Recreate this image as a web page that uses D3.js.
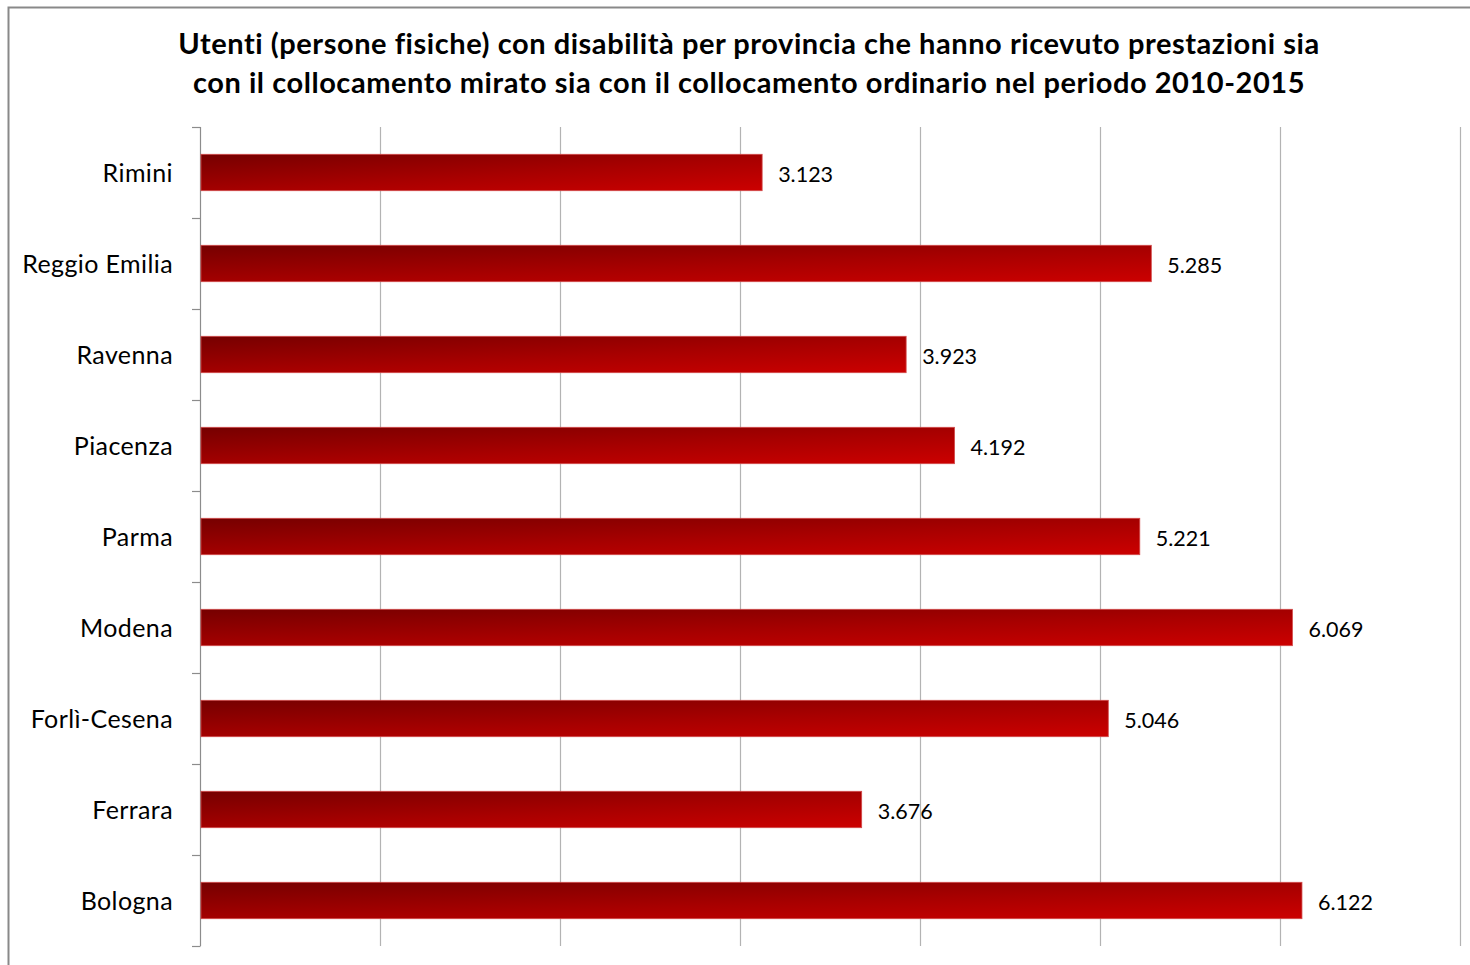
<!DOCTYPE html>
<html>
<head>
<meta charset="utf-8">
<script src="https://cdn.jsdelivr.net/npm/d3@7"></script>
<style>
  html, body { margin: 0; padding: 0; background: #fff; }
  svg { display: block; }
</style>
</head>
<body>
<div id="chart"></div>
<script>
(function () {
  // data, top to bottom
  const provinces = ["Rimini", "Reggio Emilia", "Ravenna", "Piacenza", "Parma", "Modena", "Forlì-Cesena", "Ferrara", "Bologna"];
  const users = [3123, 5285, 3923, 4192, 5221, 6069, 5046, 3676, 6122];
  const gridTicks = [0, 1000, 2000, 3000, 4000, 5000, 6000, 7000];
  const titleLines = [
    "Utenti (persone fisiche) con disabilità per provincia che hanno ricevuto prestazioni sia",
    "con il collocamento mirato sia con il collocamento ordinario nel periodo 2010-2015"
  ];

  const W = 1470, H = 965;
  const font = "Lato, 'Open Sans', sans-serif";
  const plot = { left: 200, right: 1460, top: 127, bottom: 946 };

  const svg = d3.select("#chart").append("svg")
    .attr("width", W)
    .attr("height", H);

  // outer chart frame
  svg.append("rect")
    .attr("x", 8.5).attr("y", 7.5)
    .attr("width", W + 20).attr("height", H + 20)
    .attr("fill", "#fff")
    .attr("stroke", "#898989")
    .attr("stroke-width", 2);

  const defs = svg.append("defs");
  const grad = defs.append("linearGradient")
    .attr("id", "barGrad")
    .attr("x1", 0).attr("y1", 0).attr("x2", 1).attr("y2", 1);
  grad.append("stop").attr("offset", "0%").attr("stop-color", "#760000");
  grad.append("stop").attr("offset", "55%").attr("stop-color", "#a80000");
  grad.append("stop").attr("offset", "100%").attr("stop-color", "#cc0000");

  const x = d3.scaleLinear().domain([0, 7000]).range([plot.left, plot.right]);
  const y = d3.scaleBand().domain(provinces).range([plot.top, plot.bottom]).padding(0);

  const itFmt = d3.formatLocale({ decimal: ",", thousands: ".", grouping: [3], currency: ["€", ""] }).format(",d");

  // gridlines
  svg.append("g")
    .selectAll("line")
    .data(gridTicks.slice(1))
    .join("line")
    .attr("x1", d => Math.round(x(d)) + 0.5)
    .attr("x2", d => Math.round(x(d)) + 0.5)
    .attr("y1", plot.top)
    .attr("y2", plot.bottom)
    .attr("stroke", "#b3b3b3")
    .attr("stroke-width", 1.2);

  // category axis with ticks at band boundaries
  const yAxis = svg.append("g").attr("transform", `translate(${plot.left},0)`);
  yAxis.append("line")
    .attr("x1", 0.5).attr("x2", 0.5)
    .attr("y1", plot.top).attr("y2", plot.bottom)
    .attr("stroke", "#8c8c8c").attr("stroke-width", 1.2);
  const boundaries = provinces.map(p => y(p)).concat([plot.bottom]);
  yAxis.selectAll("line.tick")
    .data(boundaries)
    .join("line")
    .attr("class", "tick")
    .attr("x1", -8).attr("x2", 0.5)
    .attr("y1", d => Math.round(d) + 0.5)
    .attr("y2", d => Math.round(d) + 0.5)
    .attr("stroke", "#8c8c8c").attr("stroke-width", 1.2);

  yAxis.selectAll("text")
    .data(provinces)
    .join("text")
    .attr("x", -27)
    .attr("y", d => y(d) + y.bandwidth() / 2)
    .attr("dy", "0.36em")
    .attr("text-anchor", "end")
    .attr("font-family", font)
    .attr("font-size", 25)
    .attr("letter-spacing", 0.4)
    .attr("fill", "#000")
    .text(d => d);

  // bars
  const barH = y.bandwidth() * 0.4;
  const rows = provinces.map((p, i) => ({ p, v: users[i] }));

  svg.append("g")
    .selectAll("rect")
    .data(rows)
    .join("rect")
    .attr("x", x(0) + 1)
    .attr("y", d => y(d.p) + (y.bandwidth() - barH) / 2)
    .attr("width", d => x(d.v) - x(0) - 1)
    .attr("height", barH)
    .attr("fill", "url(#barGrad)")
    .attr("stroke", "#d24a4a")
    .attr("stroke-width", 0.8);

  svg.append("g")
    .selectAll("text")
    .data(rows)
    .join("text")
    .attr("x", d => x(d.v) + 16)
    .attr("y", d => y(d.p) + y.bandwidth() / 2 + 1.5)
    .attr("dy", "0.36em")
    .attr("font-family", font)
    .attr("font-size", 21.5)
    .attr("fill", "#000")
    .text(d => itFmt(d.v));

  // title
  svg.append("g")
    .selectAll("text")
    .data(titleLines)
    .join("text")
    .attr("x", 749)
    .attr("y", (d, i) => 54 + i * 39)
    .attr("text-anchor", "middle")
    .attr("font-family", font)
    .attr("font-weight", "bold")
    .attr("font-size", 29)
    .attr("letter-spacing", 0.55)
    .attr("fill", "#000")
    .text(d => d);
})();
</script>
</body>
</html>
